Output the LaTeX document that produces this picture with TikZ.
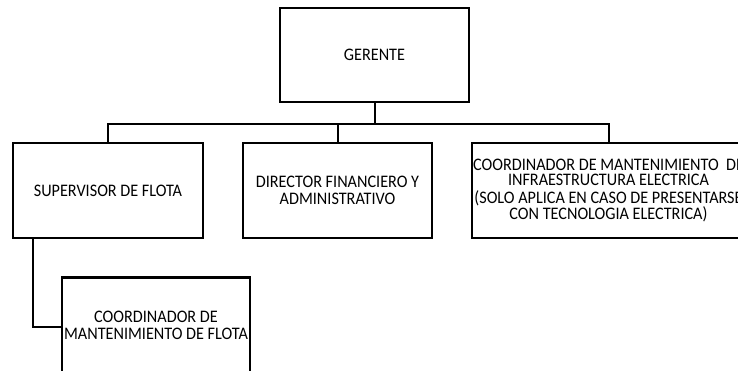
\documentclass[tikz,border=0pt]{standalone}
\usepackage{fontspec}
\setmainfont{Carlito}[FakeStretch=0.92]
\begin{document}
\begin{tikzpicture}[x=1pt,y=-1pt,
  box/.style={draw,line width=2.4pt,rectangle,align=center,inner sep=0pt,
    minimum width=#1,minimum height=95pt,font=\fontsize{17.6}{16.8}\selectfont},
  box/.default=190pt,
  link/.style={line width=2pt}]
\useasboundingbox (0,0) rectangle (738,370);
\clip (0,0) rectangle (738,370);
\node[box=189pt,minimum height=94pt] (ger) at (374.5,55) {GERENTE};
\node[box] (sup) at (108,190.5) {SUPERVISOR DE FLOTA};
\node[box=189pt] (dir) at (337.5,190.5) {DIRECTOR FINANCIERO Y\\ADMINISTRATIVO};
\node[box=273pt,font=\fontsize{17.6}{15.3}\selectfont] (coo) at (608.5,190.5) {COORDINADOR DE MANTENIMIENTO\ \ DE\\INFRAESTRUCTURA ELECTRICA\\[2pt](SOLO APLICA EN CASO DE PRESENTARSE\\CON TECNOLOGIA ELECTRICA)};
\node[box=188pt] (flo) at (156,325) {COORDINADOR DE\\MANTENIMIENTO DE FLOTA};
\draw[link] (ger.south) -- ++(0,21) -| (sup.north);
\draw[link] (ger.south) -- ++(0,21) -| (dir.north);
\draw[link] (ger.south) -- ++(0,21) -| (coo.north);
\draw[link] ([xshift=-75pt]sup.south) |- ([yshift=-2pt]flo.west);
\end{tikzpicture}
\end{document}
